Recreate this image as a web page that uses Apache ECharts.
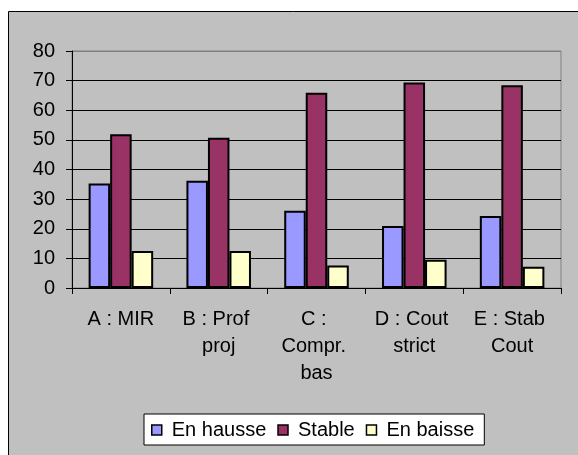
<!DOCTYPE html>
<html>
<head>
<meta charset="utf-8">
<script src="https://cdn.jsdelivr.net/npm/echarts@6/dist/echarts.min.js"></script>
<style>
html,body{margin:0;padding:0;background:#fff;}
#chart{width:578px;height:455px;}
</style>
</head>
<body>
<div id="chart"></div>
<script>
const categories = ['A : MIR', 'B : Prof proj', 'C : Compr. bas', 'D : Cout strict', 'E : Stab Cout'];
const seriesNames = ['En hausse', 'Stable', 'En baisse'];
const hausse = [35.3, 36.2, 26.1, 20.9, 24.3];
const stable = [51.9, 50.7, 65.9, 69.4, 68.4];
const baisse = [12.5, 12.5, 7.6, 9.5, 7.2];
const yTicks = [0, 10, 20, 30, 40, 50, 60, 70, 80];

const colors = ['#9999FF', '#993366', '#FFFFCC'];
const font = '"Liberation Sans", Arial, sans-serif';

const chart = echarts.init(document.getElementById('chart'), null, {renderer: 'canvas'});
const values = [hausse, stable, baisse];
const gridColors = yTicks.map((v, i) => i === yTicks.length - 1 ? '#808080' : '#000000');

chart.setOption({
  animation: false,
  backgroundColor: 'transparent',
  graphic: [{
    type: 'rect',
    z: -100,
    silent: true,
    shape: {x: 8.5, y: 11.5, width: 700, height: 600},
    style: {fill: '#C0C0C0', stroke: '#000000', lineWidth: 1}
  }],
  grid: {
    left: 72, right: 17, top: 51, bottom: 167,
    show: true, borderColor: '#808080', borderWidth: 1, backgroundColor: 'transparent'
  },
  legend: {
    data: seriesNames,
    left: 144, top: 414,
    backgroundColor: '#ffffff',
    borderColor: '#000000',
    borderWidth: 1,
    borderRadius: 0,
    padding: [6, 10, 5, 7],
    itemWidth: 10, itemHeight: 10, itemGap: 11,
    icon: 'rect',
    itemStyle: {borderColor: '#000000', borderWidth: 1.5},
    textStyle: {fontFamily: font, fontSize: 20, color: '#000', padding: [0, 0, 0, 5]}
  },
  xAxis: {
    type: 'category',
    data: categories,
    axisLine: {show: true, lineStyle: {color: '#000', width: 1}},
    axisTick: {show: true, length: 6, lineStyle: {color: '#000'}},
    axisLabel: {
      interval: 0, margin: 18, fontFamily: font, fontSize: 20, color: '#000',
      lineHeight: 27, width: 90, overflow: 'break', align: 'center'
    },
    splitLine: {show: false}
  },
  yAxis: {
    type: 'value',
    min: yTicks[0], max: yTicks[yTicks.length - 1], interval: 10,
    axisLine: {show: true, lineStyle: {color: '#000', width: 1}},
    axisTick: {show: true, length: 6, lineStyle: {color: '#000'}},
    axisLabel: {margin: 17, fontFamily: font, fontSize: 20, color: '#000'},
    splitLine: {show: true, lineStyle: {color: gridColors, width: 1}}
  },
  series: seriesNames.map((name, i) => ({
    name: name,
    type: 'bar',
    data: values[i],
    barGap: '0%',
    barCategoryGap: '34%',
    itemStyle: {color: colors[i], borderColor: '#000000', borderWidth: 2}
  }))
});
</script>
</body>
</html>
